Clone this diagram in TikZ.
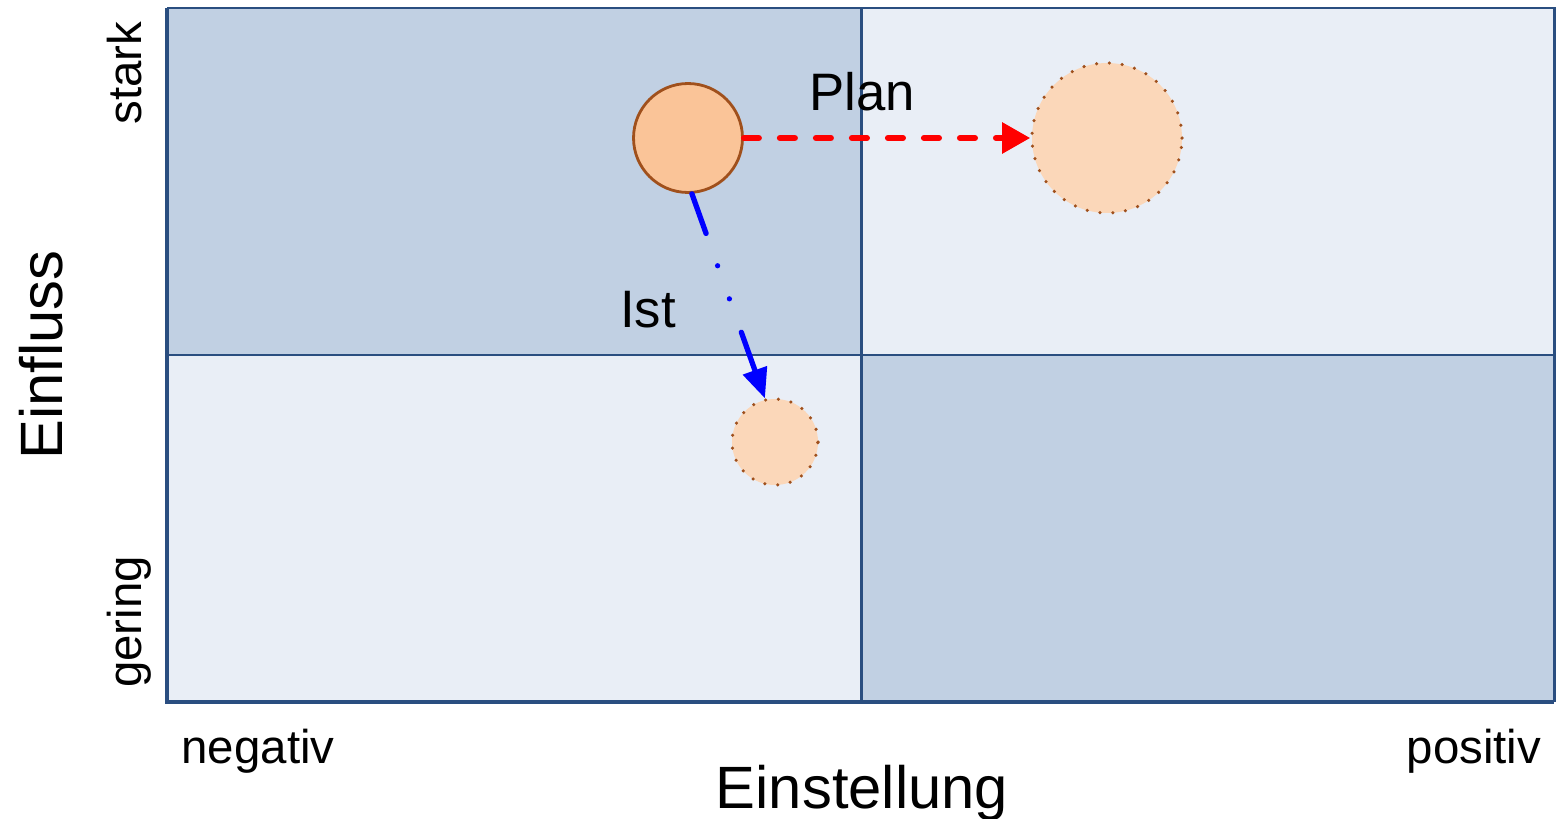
\documentclass[tikz,border=0pt]{standalone}
\usepackage{fontspec}
\setmainfont{Liberation Sans}
\usepackage{tikz}
\usetikzlibrary{arrows.meta,positioning}
\definecolor{quaddark}{HTML}{C1D0E3}
\definecolor{quadlight}{HTML}{E9EEF6}
\definecolor{gridline}{HTML}{2A4E80}
\definecolor{istfill}{HTML}{FAC498}
\definecolor{planfill}{HTML}{FBD7B9}
\definecolor{rimbrown}{HTML}{A0501C}

\begin{document}
\begin{tikzpicture}[x=0.02cm,y=-0.02cm,
  small/.style={font=\fontsize{27}{30}\selectfont,anchor=base},
  large/.style={font=\fontsize{34}{38}\selectfont,anchor=base},
  mid/.style={font=\fontsize{30}{34}\selectfont,anchor=base},
  nowcircle/.style={circle,fill=istfill,draw=rimbrown,line width=1.6pt},
  goalcircle/.style={circle,fill=planfill,draw=rimbrown,line width=2pt,line cap=round,dash pattern=on 0pt off 7.3pt}]
  \useasboundingbox (0,0) rectangle (1557,818);
  \fill[quaddark] (167,8) rectangle (861,355);
  \fill[quadlight] (861,8) rectangle (1554,355);
  \fill[quadlight] (167,355) rectangle (861,702);
  \fill[quaddark] (861,355) rectangle (1554,702);
  \draw[gridline,line width=1.7pt] (167,8)--(1554,8)--(1554,702);
  \draw[gridline,line width=1.7pt] (861,8)--(861,702) (167,355)--(1554,355);
  \draw[gridline,line width=2.8pt] (167,8)--(167,702)--(1554,702);

  \node[nowcircle,minimum size=2.18cm] (jetzt) at (688,138) {};
  \node[goalcircle,minimum size=3cm] (ziel) at (1107,138) {};
  \node[goalcircle,minimum size=1.72cm] (ziel2) at (775,442) {};
  \draw[red,line width=3.5pt,line cap=round,dash pattern=on 8.5pt off 12pt,-{Triangle[length=16pt,width=17pt,line cap=butt]}] (jetzt.east)--(ziel.west);
  \draw[blue,line width=3pt,line cap=round,dash pattern=on 24pt off 19.5pt on 0pt off 20pt on 0pt off 20.2pt on 60pt,-{Triangle[length=17pt,width=14pt,line cap=butt]}] (jetzt.274)--(ziel2.103);

  \node[mid] (plan) at (862,110) {Plan};
  \node[mid] (ist) at (648,327) {Ist};
  \node[large] (einst) at (862,808) {Einstellung};
  \node[large,rotate=90] (einfl) at (62,355) {Einfluss};
  \node[small] (neg) at (258,763) {negativ};
  \node[small] (pos) at (1474,763) {positiv};
  \node[small,rotate=90] (stark) at (141,73) {stark};
  \node[small,rotate=90] (gering) at (141,622) {gering};
\end{tikzpicture}
\end{document}
